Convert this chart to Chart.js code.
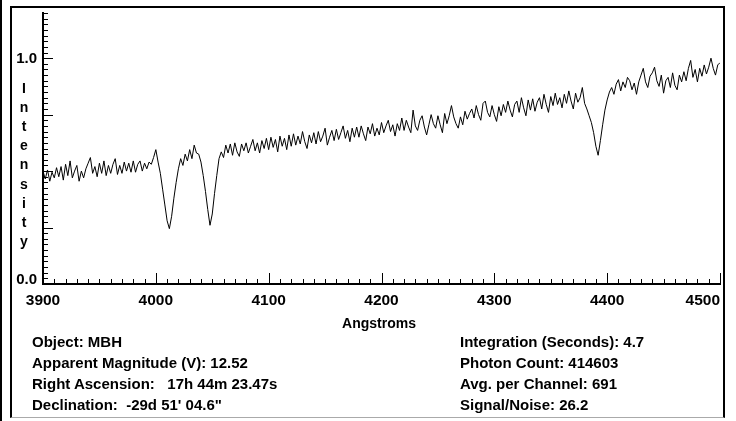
<!DOCTYPE html>
<html>
<head>
<meta charset="utf-8">
<script src="https://cdn.jsdelivr.net/npm/chart.js@4/dist/chart.umd.min.js"></script>
<style>
  html, body { margin: 0; padding: 0; background: #fff; }
  body { width: 736px; height: 421px; position: relative; overflow: hidden; }
  #chart { position: absolute; left: 0; top: 0; }
  .edge { position: absolute; left: 0; top: 0; width: 2px; height: 421px; background: #000; }
  .frame { position: absolute; left: 10px; top: 6px; width: 715px; height: 412px; box-sizing: border-box;
           border-left: 2px solid #000; border-top: 2px solid #000; border-right: 2px solid #000; border-bottom: 1px solid #aaa; }
  .txt { position: absolute; font: bold 15px "Liberation Sans", Arial, sans-serif; color: #000; white-space: pre; }
  .info { line-height: 21px; top: 331px; }
  #ytitle { left: 14px; width: 20px; top: 78.5px; font-size: 14px; line-height: 19.2px; text-align: center; }
  #xtitle { left: 279px; width: 200px; top: 315px; font-size: 14px; line-height: 16px; text-align: center; }
</style>
</head>
<body>
<canvas id="chart" width="736" height="421"></canvas>
<div class="edge"></div>
<div class="frame"></div>
<div class="txt" id="ytitle">I
n
t
e
n
s
i
t
y</div>
<div class="txt" id="xtitle">Angstroms</div>
<div class="txt info" style="left:32px">Object: MBH
Apparent Magnitude (V): 12.52
Right Ascension:   17h 44m 23.47s
Declination:  -29d 51' 04.6"</div>
<div class="txt info" style="left:460px">Integration (Seconds): 4.7
Photon Count: 414603
Avg. per Channel: 691
Signal/Noise: 26.2</div>
<script>
// spectrum, one value every 2 Angstroms from 3900 to 4500
const lambdaStart = 3900;
const lambdaStep = 2;
const intensity = [
  .50, .465, .505, .455, .495, .47, .515, .475, .52, .46,
  .53, .48, .545, .47, .50, .525, .455, .50, .47, .51,
  .535, .56, .49, .52, .475, .535, .49, .545, .48, .525,
  .49, .53, .555, .485, .525, .49, .54, .50, .535, .495,
  .545, .495, .53, .545, .50, .535, .51, .54, .53, .56,
  .595, .54, .49, .42, .35, .28, .245, .30, .38, .45,
  .51, .555, .525, .575, .545, .595, .555, .615, .58, .575,
  .54, .48, .41, .33, .26, .31, .40, .48, .555, .585,
  .56, .615, .58, .62, .57, .625, .585, .565, .62, .59,
  .625, .58, .61, .64, .59, .625, .58, .635, .60, .645,
  .595, .65, .605, .64, .585, .655, .61, .645, .595, .66,
  .61, .665, .615, .655, .62, .675, .63, .60, .66, .625,
  .67, .62, .675, .63, .655, .69, .615, .65, .68, .635,
  .685, .64, .67, .70, .645, .68, .63, .69, .65, .695,
  .65, .70, .665, .635, .695, .665, .71, .655, .69, .66,
  .715, .67, .70, .725, .675, .705, .655, .71, .68, .735,
  .68, .725, .695, .67, .77, .70, .68, .725, .745, .695,
  .66, .705, .75, .71, .69, .745, .705, .67, .755, .71,
  .745, .79, .74, .71, .69, .74, .705, .765, .73, .755,
  .775, .735, .79, .75, .725, .80, .81, .76, .74, .79,
  .75, .72, .785, .745, .795, .76, .81, .77, .74, .795,
  .81, .76, .825, .78, .745, .815, .77, .82, .765, .805,
  .825, .775, .84, .795, .76, .83, .79, .845, .795, .825,
  .78, .84, .80, .855, .81, .775, .845, .805, .825, .87,
  .80, .775, .745, .715, .67, .61, .57, .635, .705, .77,
  .815, .85, .87, .84, .885, .905, .855, .895, .87, .915,
  .90, .86, .89, .84, .895, .925, .955, .895, .87, .92,
  .935, .96, .90, .875, .925, .845, .90, .915, .87, .935,
  .88, .86, .925, .895, .94, .90, .955, .99, .915, .95,
  .895, .955, .92, .97, .93, .96, 1.0, .955, .925, .97,
  .98
];
const xTickLabels = ['3900', '4000', '4100', '4200', '4300', '4400', '4500'];
const yTickLabels = ['0.0', '1.0'];

const points = intensity.map((v, i) => ({ x: lambdaStart + i * lambdaStep, y: v }));

function isMajor(v, every) {
  const r = v / every;
  return Math.abs(r - Math.round(r)) < 1e-6;
}

// inward tick marks and the tick labels, placed with the chart's own scales
const tickMarks = {
  id: 'tickMarks',
  afterDraw(chart) {
    const { ctx, scales: { x, y } } = chart;
    const bottom = Math.round(y.getPixelForValue(0));
    const left = Math.round(x.getPixelForValue(lambdaStart));
    ctx.save();
    ctx.strokeStyle = '#000';
    ctx.lineWidth = 1;
    ctx.beginPath();
    x.ticks.forEach(t => {
      const px = Math.round(x.getPixelForValue(t.value)) + 0.5;
      const len = isMajor(t.value, 100) ? 11 : 5;
      ctx.moveTo(px, bottom);
      ctx.lineTo(px, bottom - len);
    });
    y.ticks.forEach(t => {
      const py = Math.round(y.getPixelForValue(t.value)) + 0.5;
      const len = isMajor(t.value, 0.25) ? 10 : 5;
      ctx.moveTo(left, py);
      ctx.lineTo(left + len, py);
    });
    ctx.stroke();

    ctx.fillStyle = '#000';
    ctx.font = 'bold 15.5px "Liberation Sans", Arial, sans-serif';
    ctx.textBaseline = 'alphabetic';
    xTickLabels.forEach((lab, i) => {
      const px = x.getPixelForValue(Number(lab));
      ctx.textAlign = i === xTickLabels.length - 1 ? 'right' : 'center';
      ctx.fillText(lab, px, bottom + 21);
    });
    ctx.font = 'bold 15px "Liberation Sans", Arial, sans-serif';
    ctx.textAlign = 'right';
    yTickLabels.forEach(lab => {
      const v = Number(lab);
      const py = y.getPixelForValue(v);
      ctx.fillText(lab, left - 6, v === 0 ? py : py + 5);
    });
    ctx.restore();
  }
};

new Chart(document.getElementById('chart'), {
  type: 'line',
  data: {
    datasets: [{
      data: points,
      borderColor: '#000',
      borderWidth: 1,
      pointRadius: 0,
      tension: 0,
      fill: false
    }]
  },
  options: {
    responsive: false,
    animation: false,
    layout: { padding: { left: 43, right: 16, top: 13, bottom: 137 } },
    plugins: { legend: { display: false }, tooltip: { enabled: false } },
    scales: {
      x: {
        type: 'linear',
        min: 3900,
        max: 4500,
        ticks: { display: false, stepSize: 10 },
        grid: { display: false, drawTicks: false },
        border: { display: true, color: '#000', width: 2 }
      },
      y: {
        min: 0,
        max: 1.2,
        ticks: { display: false, stepSize: 0.025 },
        grid: { display: false, drawTicks: false },
        border: { display: true, color: '#000', width: 2 }
      }
    }
  },
  plugins: [tickMarks]
});
</script>
</body>
</html>
